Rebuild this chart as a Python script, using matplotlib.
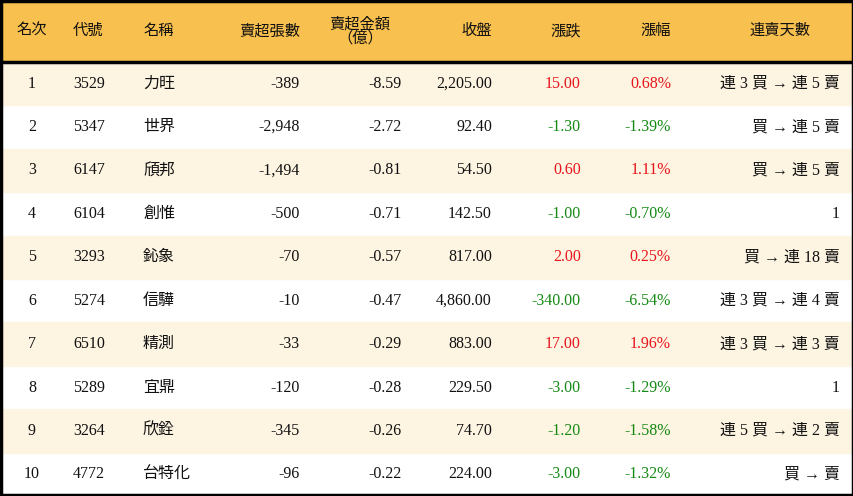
import matplotlib
matplotlib.use("Agg")
import matplotlib.pyplot as plt
from matplotlib.patches import Rectangle
from matplotlib import font_manager

headers = ["名次", "代號", "名稱", "賣超張數", "賣超金額\n（億）", "收盤", "漲跌", "漲幅", "連賣天數"]
ranks = [1, 2, 3, 4, 5, 6, 7, 8, 9, 10]
codes = ["3529", "5347", "6147", "6104", "3293", "5274", "6510", "5289", "3264", "4772"]
names = ["力旺", "世界", "頎邦", "創惟", "鈊象", "信驊", "精測", "宜鼎", "欣銓", "台特化"]
net_sell_lots = [-389, -2948, -1494, -500, -70, -10, -33, -120, -345, -96]
net_sell_amount = [-8.59, -2.72, -0.81, -0.71, -0.57, -0.47, -0.29, -0.28, -0.26, -0.22]
close = [2205.00, 92.40, 54.50, 142.50, 817.00, 4860.00, 883.00, 229.50, 74.70, 224.00]
change = [15.00, -1.30, 0.60, -1.00, 2.00, -340.00, 17.00, -3.00, -1.20, -3.00]
pct = [0.68, -1.39, 1.11, -0.70, 0.25, -6.54, 1.96, -1.29, -1.58, -1.32]
streak = ["連 3 買 → 連 5 賣", "買 → 連 5 賣", "買 → 連 5 賣", "1", "買 → 連 18 賣",
          "連 3 買 → 連 4 賣", "連 3 買 → 連 3 賣", "1", "連 5 買 → 連 2 賣", "買 → 賣"]

cjk_names = sorted({f.name for f in font_manager.fontManager.ttflist if "CJK" in f.name})
cjk = None
for pref in ["Noto Sans CJK TC", "Noto Sans CJK JP", "Noto Sans CJK SC"]:
    if pref in cjk_names:
        cjk = pref
        break
if cjk is None and cjk_names:
    cjk = cjk_names[0]

W, H = 854, 496
fig = plt.figure(figsize=(W / 100, H / 100), dpi=100)
ax = fig.add_axes([0, 0, 1, 1])
ax.set_xlim(0, W)
ax.set_ylim(H, 0)
ax.axis("off")

fam = ["Liberation Serif"] + ([cjk] if cjk else [])
fs = 11.5
head_h = 62
row_h = (H - head_h) / 10

ax.add_patch(Rectangle((0, 0), W, head_h, color="#F8C04E", zorder=0))
for i in range(10):
    y0 = head_h + i * row_h
    if i % 2 == 0:
        ax.add_patch(Rectangle((0, y0), W, row_h, color="#FDF4E2", zorder=0))
ax.plot([0, W], [head_h, head_h], color="black", lw=2.5, zorder=3)
ax.add_patch(Rectangle((1, 1), W - 2, H - 2, fill=False, ec="black", lw=2.5, zorder=4))

cols = [(32, "center"), (73, "left"), (143, "left"), (300, "right"), (402, "right"),
        (492, "right"), (581, "right"), (671, "right"), (840, "right")]
head_pos = [(32, "center"), (73, "left"), (143, "left"), (300, "right"), (360, "center"),
            (492, "right"), (581, "right"), (671, "right"), (780, "center")]
for (x, ha), h in zip(head_pos, headers):
    ax.text(x, head_h / 2, h, ha=ha, va="center", fontsize=fs - 0.5, family=fam,
            linespacing=0.95, color="#111111")

def col(v):
    return "#E8141B" if v > 0 else "#148A14"

for i in range(10):
    yc = head_h + (i + 0.5) * row_h
    vals = [str(ranks[i]), codes[i], names[i], f"{net_sell_lots[i]:,}",
            f"{net_sell_amount[i]:.2f}", f"{close[i]:,.2f}", f"{change[i]:,.2f}",
            f"{pct[i]:.2f}%", streak[i]]
    colors = ["#111111"] * 6 + [col(change[i]), col(pct[i]), "#111111"]
    for (x, ha), v, c in zip(cols, vals, colors):
        ax.text(x, yc, v, ha=ha, va="center", fontsize=fs, family=fam, color=c)

fig.savefig("out.png", dpi=100)
